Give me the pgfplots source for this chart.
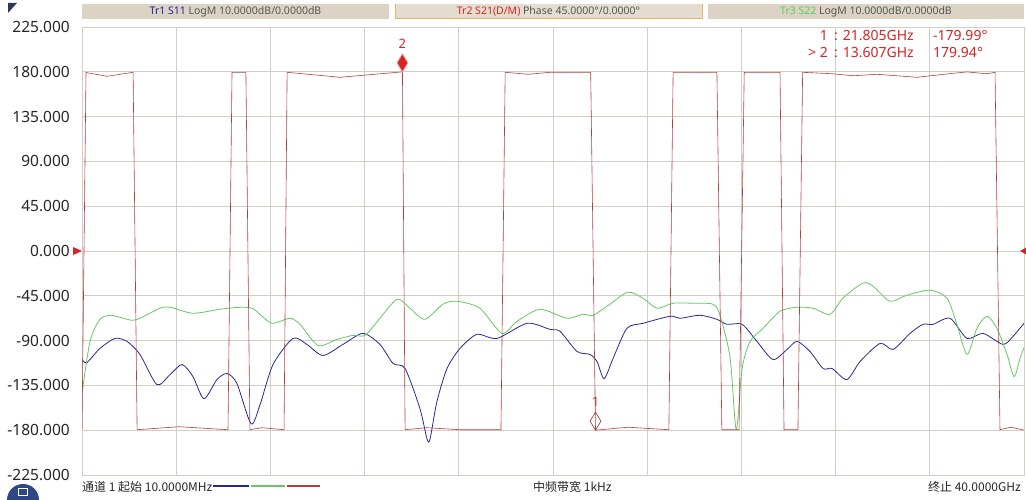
\documentclass[border=0pt]{standalone}
\usepackage{pgfplots}
\pgfplotsset{compat=1.18}
\usepackage{fontspec}
\setmainfont{Noto Sans}
\newfontfamily\cjk{Noto Sans CJK SC}
\definecolor{trA}{RGB}{40,40,140}
\definecolor{trB}{RGB}{178,62,62}
\definecolor{trC}{RGB}{100,200,100}
\definecolor{gridc}{RGB}{210,206,198}
\definecolor{boxc}{RGB}{220,211,196}
\definecolor{boxact}{RGB}{228,220,206}
\definecolor{mk}{RGB}{212,36,36}
\definecolor{hdtxt}{RGB}{85,85,85}

% S11 and S22, LogM (dB)
\pgfplotstableread{
f dB
0 -24.22
0.21 -24.89
0.76 -21.75
1.40 -19.51
1.91 -20.18
2.46 -23.09
3.18 -29.82
3.74 -27.58
4.25 -25.34
4.71 -28.03
5.18 -32.96
5.73 -28.70
6.16 -27.35
6.58 -29.60
7.18 -38.57
7.56 -34.30
8.11 -25.34
8.96 -19.51
9.55 -20.85
10.23 -23.32
11.08 -20.85
11.93 -18.39
12.65 -20.85
13.21 -25.11
13.72 -26.23
14.35 -35.20
14.65 -41.93
14.78 -41.93
15.07 -33.63
15.50 -26.23
16.05 -21.75
16.77 -18.61
17.62 -19.51
18.90 -16.14
19.87 -17.49
20.30 -17.94
21.02 -22.42
21.57 -23.09
21.87 -24.66
22.17 -28.48
22.55 -23.99
23.14 -17.26
23.82 -16.14
24.97 -14.57
25.39 -15.02
26.24 -14.35
26.96 -15.25
27.39 -16.37
28.03 -16.37
28.66 -20.18
29.34 -24.22
29.94 -21.97
30.36 -20.18
30.91 -22.42
31.47 -26.23
31.85 -26.23
32.48 -28.70
33.04 -24.66
33.89 -20.63
34.44 -21.97
35.16 -18.39
35.71 -16.37
36.14 -16.37
36.86 -15.02
37.58 -19.51
38.26 -18.39
39.11 -20.85
39.53 -19.06
40 -16.14
}\sOneOne

\pgfplotstableread{
f dB
0 -31.84
0.34 -20.18
0.76 -15.25
1.19 -14.35
1.61 -14.80
2.12 -15.47
2.46 -15.02
3.31 -12.78
3.74 -12.56
4.71 -13.90
5.86 -13.00
6.71 -12.56
7.22 -12.78
7.56 -14.13
8.07 -16.14
8.83 -15.02
9.26 -16.37
10.02 -21.08
10.83 -19.73
11.51 -18.83
12.02 -18.83
12.65 -15.02
13.38 -10.76
13.93 -12.78
14.56 -15.25
15.33 -11.88
15.92 -11.21
16.90 -12.78
17.83 -18.39
18.47 -15.70
19.45 -13.00
20.59 -15.02
21.27 -14.13
21.70 -14.35
22.42 -11.88
23.18 -9.19
23.82 -10.54
24.42 -12.78
25.10 -11.66
25.94 -11.66
26.79 -11.88
27.09 -14.35
27.52 -23.80
27.78 -39.91
28.03 -26.23
28.37 -20.18
28.92 -17.26
29.64 -13.45
30.36 -12.56
31.04 -12.78
31.76 -14.13
32.31 -10.54
33.16 -7.17
33.59 -7.85
34.31 -11.21
35.03 -9.87
36.01 -8.74
36.73 -10.54
37.15 -16.37
37.58 -23.09
38.00 -17.26
38.43 -14.57
38.85 -17.26
39.28 -23.09
39.58 -28.03
39.83 -23.99
40 -21.52
}\sTwoTwo

% S21 phase (deg)
\pgfplotstableread{
f ph
0 -179
0.17 179.3
1.06 175.5
2.17 179.5
2.34 -179.5
4.12 -176.5
6.20 -179.5
6.37 179.5
6.96 179.5
7.13 -179.5
7.64 -177.5
8.58 -179.5
8.71 179.5
10.96 174.5
13.607 179.94
13.72 -179.5
14.65 -177.5
16.05 -179.5
17.79 -179.5
17.97 179.5
18.94 177.5
19.87 179.5
21.60 179.5
21.805 -179.99
23.18 -177
24.92 -179.5
25.10 179.5
26.96 179.5
27.17 -179.5
27.90 -179.5
28.12 179.5
29.64 179.5
29.81 -179.5
30.40 -179.5
30.60 179.5
31.89 178
32.74 176
33.76 177.5
35.46 174.5
36.99 178.5
37.58 179.9
38.43 178
38.77 179.5
38.98 -179.5
39.45 -177
40 -179.9
}\sTwoOne

\pgfplotsset{
  vna/.style={at={(82pt,24pt)}, anchor=south west, scale only axis,
    width=942pt, height=448pt, xmin=0, xmax=40},
}

\begin{document}
\begin{tikzpicture}[x=1pt,y=1pt]
\path[use as bounding box] (0,0) rectangle (1026,499);
\begin{scope}
\clip (0,0) rectangle (1026,499);

% trace headers
\fill[boxc] (82,480) rectangle (389,495);
\fill[boxact] (395,480) rectangle (702,495);
\draw[color={rgb,255:red,226;green,182;blue,90}, line width=1pt] (395,495) -- (395,480) -- (702,480) -- (702,495);
\fill[boxc] (708,480) rectangle (1024,495);
\node[font=\fontsize{10.5}{11}\selectfont, inner sep=0] at (235.5,487.5)
  {\textcolor{trA!80!blue}{Tr1 S11} \textcolor{hdtxt}{LogM 10.0000dB/0.0000dB}};
\node[font=\fontsize{10.5}{11}\selectfont, inner sep=0] at (548.5,487.5)
  {\textcolor{mk}{Tr2 S21(D/M)} \textcolor{hdtxt}{Phase 45.0000°/0.0000°}};
\node[font=\fontsize{10.5}{11}\selectfont, inner sep=0] at (866,487.5)
  {\textcolor{trC!90!green}{Tr3 S22} \textcolor{hdtxt}{LogM 10.0000dB/0.0000dB}};

% corner glyphs
\fill[color={rgb,255:red,40;green,56;blue,86}] (8,496) -- (17,496) -- (8,486) -- cycle;
\fill[color={rgb,255:red,45;green,72;blue,130}] (23,-1) circle (16);
\draw[white, line width=0.8pt] (18,4) rectangle (27,11);

% grid, ticks
\begin{axis}[vna, ymin=-225, ymax=225,
  xtick={0,4,...,40}, xticklabels={},
  ytick={-225,-180,-135,-90,-45,0,45,90,135,180,225},
  yticklabel={\pgfmathprintnumber[fixed,fixed zerofill,precision=3,assume math mode=true]{\tick}},
  yticklabel style={font=\fontsize{15.5}{16}\selectfont, color=black!85, inner sep=0pt, xshift=-12pt},
  grid=major, major grid style={gridc, line width=0.9pt},
  axis line style={gridc, line width=0.9pt},
  major tick length=0pt]
\end{axis}

\begin{axis}[vna, ymin=-50, ymax=50, hide axis]
\addplot[trA, line width=0.8pt, smooth, tension=0.45] table[x=f, y=dB] {\sOneOne};
\addplot[trC, line width=0.8pt, smooth, tension=0.45] table[x=f, y=dB] {\sTwoTwo};
\end{axis}

\begin{axis}[vna, ymin=-225, ymax=225, hide axis,
  nodes near coords align={anchor=south}]
\addplot[trB, line width=0.6pt] table[x=f, y=ph] {\sTwoOne};
% marker 2 (active) and marker 1
\addplot[mk, only marks, mark=diamond*, mark size=9pt,
  mark options={fill=mk, draw=mk!45!white, line width=0.8pt, xscale=0.8, yshift=9pt},
  nodes near coords={2},
  every node near coord/.append style={font=\fontsize{13}{14}\selectfont, text=mk, yshift=11pt}]
  coordinates {(13.607,179.94)};
\addplot[trB!80!black, only marks, mark=diamond, mark size=9pt,
  mark options={line width=0.6pt, xscale=0.8, yshift=9pt},
  nodes near coords={1},
  every node near coord/.append style={font=\fontsize{13}{14}\selectfont, text=mk, yshift=11pt}]
  coordinates {(21.805,-179.99)};
\end{axis}

% reference position arrows
\fill[mk] (73,252) -- (82,248) -- (73,244) -- cycle;
\fill[mk] (1027,252) -- (1020,248) -- (1027,244) -- cycle;

% marker readout
\begin{scope}[font=\fontsize{14}{15}\selectfont, text=mk]
\node[anchor=base east, inner sep=0] at (828,458) {1};
\node[anchor=base west, inner sep=0] at (834,458) {: 21.805GHz};
\node[anchor=base west, inner sep=0] at (933,458) {-179.99°};
\node[anchor=base east, inner sep=0] at (828,441) {> 2};
\node[anchor=base west, inner sep=0] at (834,441) {: 13.607GHz};
\node[anchor=base west, inner sep=0] at (933,441) {179.94°};
\end{scope}

% status line
\begin{scope}[font=\cjk\fontsize{12}{13}\selectfont, text=black!85]
\node[anchor=base west, inner sep=0] at (82,8) {通道 1 起始 10.0000MHz};
\node[anchor=base west, inner sep=0] at (533,8) {中频带宽 1kHz};
\node[anchor=base east, inner sep=0] at (1021,8) {终止 40.0000GHz};
\end{scope}
\draw[trA, line width=1.5pt] (213,13) -- (249,13);
\draw[trC, line width=1.5pt] (251,13) -- (285,13);
\draw[trB, line width=1.5pt] (287,13) -- (320,13);
\end{scope}
\end{tikzpicture}
\end{document}
